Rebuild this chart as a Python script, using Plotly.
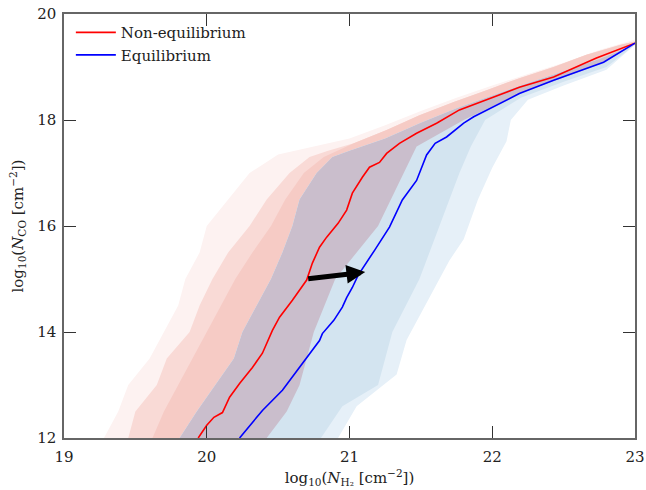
import plotly.graph_objects as go

# ---- lines (log10 N_H2, log10 N_CO) ----
red_x = [19.94, 20.0, 20.05, 20.11, 20.16, 20.23, 20.32, 20.39, 20.46, 20.51, 20.60, 20.70, 20.74, 20.79,
         20.84, 20.92, 20.98, 21.02, 21.09, 21.14, 21.21, 21.26, 21.35, 21.47, 21.61, 21.77, 21.96, 22.19,
         22.43, 22.73, 23.0]
red_y = [12.0, 12.24, 12.39, 12.48, 12.77, 13.03, 13.33, 13.60, 14.03, 14.28, 14.60, 14.98, 15.30, 15.60,
         15.79, 16.05, 16.30, 16.62, 16.92, 17.11, 17.20, 17.37, 17.56, 17.75, 17.94, 18.19, 18.38, 18.62,
         18.81, 19.17, 19.45]
blue_x = [20.23, 20.39, 20.53, 20.72, 20.79, 20.81, 20.86, 20.89, 20.95, 20.98, 21.02, 21.06, 21.18, 21.28,
          21.37, 21.47, 21.54, 21.60, 21.68, 21.80, 21.87, 22.0, 22.19, 22.43, 22.78, 23.0]
blue_y = [12.0, 12.52, 12.90, 13.60, 13.84, 13.97, 14.13, 14.22, 14.47, 14.65, 14.84, 15.07, 15.56, 15.98,
          16.49, 16.86, 17.34, 17.56, 17.68, 17.94, 18.06, 18.24, 18.5, 18.75, 19.09, 19.45]

# ---- arrow (tail -> head) ----
arrow_tail = (20.70, 15.0)
arrow_head = (21.11, 15.13)

# ---- distribution envelopes ----
faint_left_x = [19.28, 19.38, 19.45, 19.6, 19.7, 19.8, 19.85, 19.95, 20.0, 20.15, 20.3, 20.5, 20.75]
faint_left_y = [12.0, 12.5, 13.0, 13.5, 14.0, 14.5, 15.0, 15.5, 16.0, 16.5, 17.0, 17.35, 17.5]
faint_top_x = [21.0, 21.25, 21.5, 21.75, 22.0, 22.25, 22.5, 22.75, 23.0]
faint_top_y = [17.65, 17.9, 18.17, 18.42, 18.65, 18.87, 19.08, 19.32, 19.52]

red_left_x = [19.45, 19.5, 19.65, 19.72, 19.88, 19.95, 20.04, 20.15, 20.3, 20.42, 20.58, 20.72, 20.85]
red_left_y = [12.0, 12.5, 13.0, 13.5, 14.0, 14.5, 15.0, 15.5, 16.0, 16.5, 17.0, 17.3, 17.42]
red_top_x = [21.03, 21.26, 21.49, 21.73, 21.96, 22.19, 22.43, 22.66, 22.9, 23.0]
red_top_y = [17.56, 17.81, 18.09, 18.34, 18.56, 18.79, 19.0, 19.23, 19.42, 19.48]

redcore_left_x = [19.62, 19.7, 19.8, 19.9, 20.0, 20.1, 20.2, 20.32, 20.45, 20.55, 20.68, 20.82]
redcore_left_y = [12.0, 12.5, 13.0, 13.5, 14.0, 14.5, 15.0, 15.5, 16.0, 16.5, 17.0, 17.3]

mix_left_x = [19.81, 19.93, 20.06, 20.19, 20.25, 20.35, 20.45, 20.53, 20.60, 20.65, 20.77, 20.88]
mix_left_y = [12.0, 12.5, 13.0, 13.5, 14.0, 14.5, 15.0, 15.5, 16.0, 16.5, 17.0, 17.3]
mix_top_x = [21.0, 21.25, 21.5, 21.75, 22.0, 22.25, 22.5, 22.75, 23.0]
mix_top_y = [17.42, 17.65, 17.95, 18.22, 18.46, 18.7, 18.92, 19.15, 19.42]
mix_right_x = [23.0, 22.75, 22.5, 22.19, 21.8, 21.47, 21.38, 21.2, 20.9, 20.75, 20.65, 20.56, 20.42]
mix_right_y = [19.42, 19.05, 18.8, 18.5, 18.0, 17.5, 17.0, 16.0, 15.0, 14.0, 13.0, 12.5, 12.0]

bluel_right_x = [23.0, 22.8, 22.5, 22.25, 22.13, 22.1, 22.0, 21.9, 21.8, 21.7, 21.55, 21.4, 21.33, 21.05, 20.92]
bluel_right_y = [19.42, 18.95, 18.65, 18.38, 18.0, 17.6, 17.1, 16.5, 15.75, 15.35, 14.6, 13.85, 13.2, 12.6, 12.0]
blue_right_x = [23.0, 22.8, 22.5, 22.2, 21.95, 21.85, 21.77, 21.63, 21.49, 21.3, 21.2, 20.95, 20.8]
blue_right_y = [19.42, 19.0, 18.72, 18.42, 18.0, 17.5, 17.0, 16.0, 15.0, 14.0, 13.0, 12.6, 12.0]

FONT = "DejaVu Serif"
FS = 15
fig = go.Figure()


def poly(xs, ys, color):
    fig.add_trace(go.Scatter(x=xs, y=ys, fill="toself", mode="none", fillcolor=color,
                             hoverinfo="skip", showlegend=False))


poly(faint_left_x + faint_top_x + mix_right_x, faint_left_y + faint_top_y + mix_right_y, "#fdf2f1")
poly(red_left_x + red_top_x + mix_right_x, red_left_y + red_top_y + mix_right_y, "#f9dad6")
poly(redcore_left_x + red_top_x + mix_right_x, redcore_left_y + red_top_y + mix_right_y, "#f6cbc5")
poly(mix_left_x + mix_top_x + bluel_right_x, mix_left_y + mix_top_y + bluel_right_y, "#e6f0f8")
poly(mix_left_x + mix_top_x + blue_right_x, mix_left_y + mix_top_y + blue_right_y, "#d3e4f0")
poly(mix_left_x + mix_top_x + mix_right_x, mix_left_y + mix_top_y + mix_right_y, "#cabecc")

fig.add_trace(go.Scatter(x=red_x, y=red_y, mode="lines", line=dict(color="#ff0000", width=1.6),
                         name="Non-equilibrium"))
fig.add_trace(go.Scatter(x=blue_x, y=blue_y, mode="lines", line=dict(color="#0000ff", width=1.6),
                         name="Equilibrium"))

fig.add_annotation(x=arrow_head[0], y=arrow_head[1], ax=arrow_tail[0], ay=arrow_tail[1],
                   xref="x", yref="y", axref="x", ayref="y", text="", showarrow=True,
                   arrowhead=2, arrowsize=0.75, arrowwidth=5, arrowcolor="black")

axis_common = dict(showline=True, linecolor="#666666", linewidth=1.5, mirror="ticks",
                   ticks="inside", ticklen=12, tickwidth=1, tickcolor="#333333",
                   showgrid=False, zeroline=False, automargin=False,
                   tickfont=dict(family=FONT, size=FS, color="#222222"))

fig.update_layout(
    width=646, height=490,
    margin=dict(l=64, r=11, t=14, b=52),
    paper_bgcolor="white", plot_bgcolor="white",
    font=dict(family=FONT, size=FS, color="#222222"),
    xaxis=dict(range=[19, 23], tickvals=[19, 20, 21, 22, 23], ticklabelstandoff=4,
               title=dict(text="log<sub>10</sub>(<i>N</i><sub>H₂</sub> [cm<sup>−2</sup>])",
                          font=dict(family=FONT, size=FS), standoff=8),
               **axis_common),
    yaxis=dict(range=[12, 20], tickvals=[12, 14, 16, 18, 20], ticklabelstandoff=3,
               title=dict(text="log<sub>10</sub>(<i>N</i><sub>CO</sub> [cm<sup>−2</sup>])",
                          font=dict(family=FONT, size=FS), standoff=10),
               **axis_common),
    legend=dict(x=0.012, y=0.995, xanchor="left", yanchor="top", bgcolor="rgba(0,0,0,0)",
                itemwidth=40, font=dict(family=FONT, size=FS, color="#222222")),
)

fig.write_html("out.html")
